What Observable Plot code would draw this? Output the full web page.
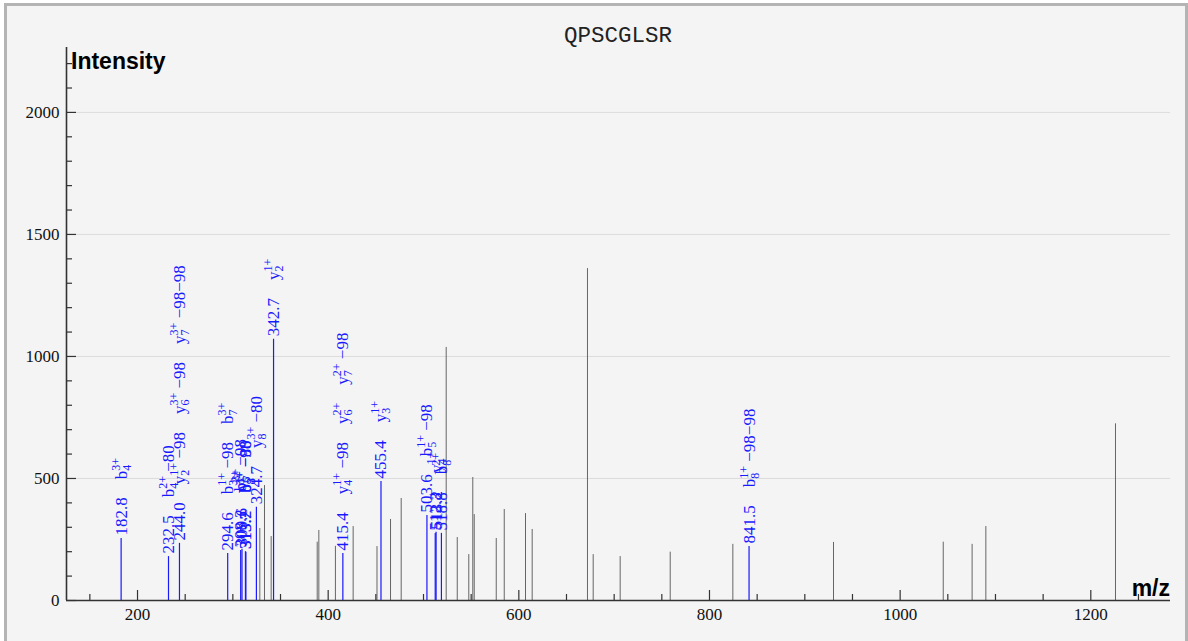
<!DOCTYPE html>
<html><head><meta charset="utf-8">
<script src="https://cdn.jsdelivr.net/npm/d3@7"></script>
<script src="https://cdn.jsdelivr.net/npm/@observablehq/plot@0.6"></script>
<style>
html,body{margin:0;padding:0;background:#fff;overflow:hidden;}
#frame{position:absolute;left:4px;top:3px;width:1178px;height:700px;border:3px solid #b4b4b4;background:#f4f4f4;}
#title{position:absolute;left:468px;top:23px;width:300px;text-align:center;font:22.5px "Liberation Mono",monospace;line-height:26px;color:#222;}
#chart{position:absolute;left:0;top:0;}
</style></head><body>
<div id="frame"></div>
<div id="title">QPSCGLSR</div>
<div id="chart"></div>
<script>
// ---- data ----
const title = "QPSCGLSR";
const grayMz  = [328.3, 333.2, 340.2, 388.5, 390.2, 407.6, 426.2, 451.2, 465.4, 476.6, 523.8, 535.4, 547.5, 551.7, 553.2, 576.3, 584.7, 607.0, 614.0, 672.0, 678.0, 706.3, 758.8, 824.5, 930.1, 1045.2, 1075.5, 1089.9, 1225.9];
const grayInt = [295, 471, 262, 239, 287, 222, 303, 221, 332, 418, 1037, 258, 188, 504, 352, 254, 373, 356, 291, 1360, 188, 180, 198, 230, 238, 239, 230, 303, 724];
const ionMz  = [182.8, 232.5, 244.0, 294.6, 308.2, 309.6, 313.2, 313.7, 324.7, 342.7, 415.4, 455.4, 503.6, 512.3, 513.2, 518.8, 841.5];
const ionInt = [254, 180, 234, 193, 205, 210, 200, 198, 382, 1070, 193, 488, 348, 275, 280, 275, 221];
const ionNotes = [
  ["b_4^3+"],
  ["b_4^2+ \u221280"],
  ["y_2^1+ \u221298", "y_6^3+ \u221298", "y_7^3+ \u221298\u221298"],
  ["b_3^1+ \u221298", "b_7^3+"],
  ["b_6^2+ \u221298"],
  ["y_7^3+"],
  ["b_3^1+ \u221280"],
  ["b_8^3+ \u221298"],
  ["y_8^3+ \u221280"],
  ["y_2^1+"],
  ["y_4^1+ \u221298", "y_6^2+", "y_7^2+ \u221298"],
  ["y_3^1+"],
  ["b_5^1+ \u221298"],
  [],
  ["y_4^1+"],
  ["b_8^2+"],
  ["b_8^1+ \u221298\u221298"]
];
const xTickLabels = [200, 400, 600, 800, 1000, 1200];
const xMinorTicks = [150, 250, 300, 350, 450, 500, 550, 650, 700, 750, 850, 900, 950, 1050, 1100, 1150, 1250];
const yTickLabels = [0, 500, 1000, 1500, 2000];
const yMinorTicks = [100, 200, 300, 400, 600, 700, 800, 900, 1100, 1200, 1300, 1400, 1600, 1700, 1800, 1900, 2100, 2200];
const gridY = [500, 1000, 1500, 2000];
const xDomain = [125.5, 1283.6];
const yDomain = [0, 2266];

// ---- build ----
const W = 1188, H = 641, ML = 66, MR = 18, MT = 47, MB = 41;
const xPerPx = (xDomain[1] - xDomain[0]) / (W - ML - MR);
const yPerPx = (yDomain[1] - yDomain[0]) / (H - MT - MB);
const gray = grayMz.map((m, i) => ({mz: m, int: grayInt[i]}));
const ions = ionMz.map((m, i) => ({mz: m, int: ionInt[i], label: m.toFixed(1), notes: ionNotes[i]}));
const serif = "'Liberation Serif', 'Times New Roman', serif";
const axisColor = "#333";
const ionColor = "#1a1aff";

const svg = Plot.plot({
  width: W, height: H,
  marginLeft: ML, marginRight: MR, marginTop: MT, marginBottom: MB,
  style: {background: "transparent", overflow: "visible"},
  x: {domain: xDomain, axis: null},
  y: {domain: yDomain, axis: null},
  marks: [
    Plot.ruleY(gridY, {stroke: "#dcdcdc", strokeWidth: 1}),
    Plot.ruleX(gray, {x: "mz", y1: 0, y2: "int", stroke: "#666", strokeWidth: 1}),
    Plot.ruleX(ions, {x: "mz", y1: 0, y2: "int", stroke: ionColor, strokeWidth: 1.2}),
    Plot.ruleY([0], {stroke: axisColor, strokeWidth: 1.6}),
    Plot.ruleX([xDomain[0]], {stroke: axisColor, strokeWidth: 1.6}),
    Plot.ruleX(xTickLabels, {x: d => d, y1: 0, y2: 10 * yPerPx, stroke: axisColor, strokeWidth: 1.2}),
    Plot.ruleX(xMinorTicks, {x: d => d, y1: 0, y2: 6 * yPerPx, stroke: axisColor, strokeWidth: 1.2}),
    Plot.ruleY(yTickLabels, {y: d => d, x1: xDomain[0], x2: xDomain[0] + 10 * xPerPx, stroke: axisColor, strokeWidth: 1.2}),
    Plot.ruleY(yMinorTicks, {y: d => d, x1: xDomain[0], x2: xDomain[0] + 6 * xPerPx, stroke: axisColor, strokeWidth: 1.2}),
    Plot.text(xTickLabels, {x: d => d, y: 0, dy: 14, text: d => String(d), fontSize: 17, fontFamily: serif, fill: "#111"}),
    Plot.text(yTickLabels, {x: xDomain[0], y: d => d, dx: -7, text: d => String(d), textAnchor: "end", fontSize: 17, fontFamily: serif, fill: "#111"}),
    Plot.text(ions, {x: "mz", y: "int", text: "label", rotate: -90, textAnchor: "start", dy: -3, fill: ionColor, fontSize: 17, fontFamily: serif})
  ]
});

// rich annotation text (subscripts / superscripts stacked)
const cv = document.createElement("canvas").getContext("2d");
function tw(s, size) { cv.font = size + "px 'Liberation Serif'"; return cv.measureText(s).width; }
const NS = "http://www.w3.org/2000/svg";
function tsp(parent, txt, attrs) {
  const t = document.createElementNS(NS, "tspan");
  for (const k in attrs) t.setAttribute(k, attrs[k]);
  t.textContent = txt;
  parent.appendChild(t);
}
const notesByLabel = new Map(ions.map(d => [d.label, d.notes]));
svg.querySelectorAll("text").forEach(el => {
  const key = el.textContent;
  if (!notesByLabel.has(key) || el.getAttribute("data-done")) return;
  el.setAttribute("data-done", "1");
  let pendDy = 0, pendDx = 0;
  notesByLabel.get(key).forEach(n => {
    const m = n.match(/^([a-z])_(\d+)\^(\d\+)(.*)$/);
    if (!m) { tsp(el, n, {dx: 18 + pendDx, dy: pendDy}); pendDy = 0; pendDx = 0; return; }
    const subW = tw(m[2], 12), supW = tw(m[3], 12);
    tsp(el, m[1], {dx: 18 + pendDx, dy: pendDy});
    tsp(el, m[2], {"font-size": 12, dy: 4});
    tsp(el, m[3], {"font-size": 12, dx: -subW, dy: -11});
    const extra = Math.max(0, subW - supW);
    if (m[4]) {
      tsp(el, m[4], {dx: extra, dy: 7});
      pendDy = 0; pendDx = 0;
    } else {
      pendDy = 7; pendDx = extra;
    }
  });
});

// axis titles
const sel = d3.select(svg);
sel.append("text").attr("x", 71).attr("y", 69).attr("text-anchor", "start").attr("font-family", "'Liberation Sans', Arial, sans-serif")
  .attr("font-weight", "bold").attr("font-size", 23).attr("fill", "#000").text("Intensity");
sel.append("text").attr("x", 1170).attr("y", 596).attr("text-anchor", "end").attr("font-family", "'Liberation Sans', Arial, sans-serif")
  .attr("font-weight", "bold").attr("font-size", 23).attr("fill", "#000").text("m/z");

document.getElementById("chart").appendChild(svg);
</script>
</body></html>
